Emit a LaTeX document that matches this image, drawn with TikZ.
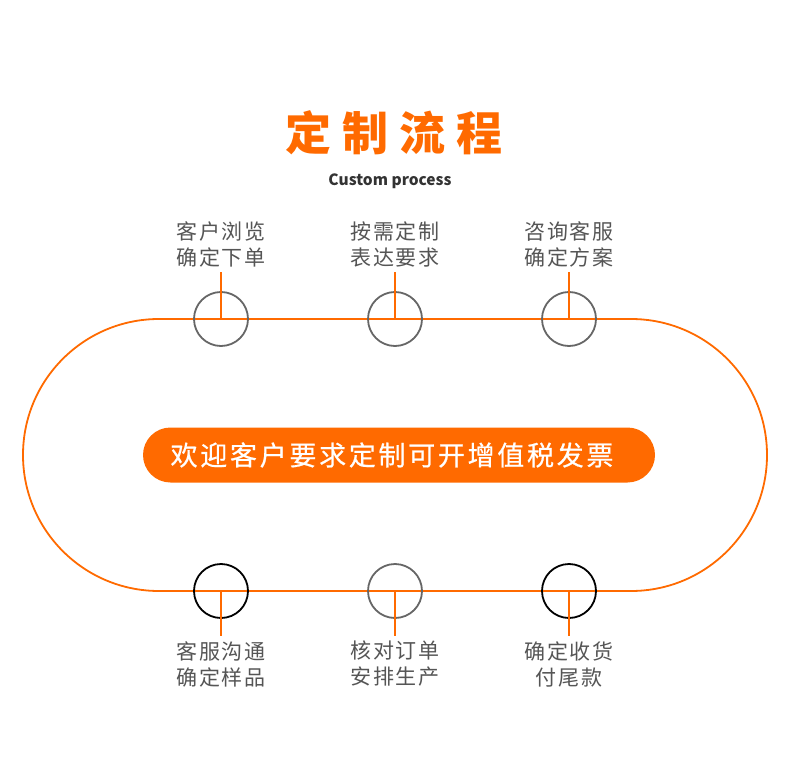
\documentclass[tikz,border=0pt]{standalone}
\usepackage{fontspec}
\newfontfamily\cjk{Noto Sans CJK SC}
\newfontfamily\cjkM[FakeBold=0.6]{Noto Sans CJK SC}
\definecolor{org}{HTML}{FF6A00}
\definecolor{lbl}{HTML}{555555}
\definecolor{cgray}{HTML}{666666}
\newcommand\gT{\kern11pt}
\newcommand\gP{\kern2.7pt}
\newcommand\gL{\kern1.6pt}
\begin{document}
\begin{tikzpicture}[x=1pt,y=-1pt,
  track/.style={draw=org,line width=1.8pt},
  ring/.style={circle,draw=cgray,line width=1.8pt,minimum size=54pt,inner sep=0pt},
  ringk/.style={ring,draw=black},
  lab/.style={font=\cjk\fontsize{21}{26}\selectfont,text=lbl,align=center,inner sep=0pt},
  tick/.style={draw=org,line width=2pt}]
\useasboundingbox (0,0) rectangle (790,770);
% stadium
\draw[track] (159,319) -- (631,319) arc[start angle=-90,end angle=90,radius=136] -- (159,591) arc[start angle=90,end angle=270,radius=136] -- cycle;
% title
\node[font=\cjk\bfseries\fontsize{46}{50}\selectfont,text=org,inner sep=0pt] (title) at (394,133) {定\gT 制\gT 流\gT 程};
\node[font=\cjk\bfseries\fontsize{15.5}{18}\selectfont,text=black!80,inner sep=0pt] (sub) at (390,181) {Custom process};
% center pill
\node[fill=org,rounded corners=27.5pt,minimum width=512pt,minimum height=55pt,inner sep=0pt] (pill) at (399,455) {};
\node[font=\cjkM\fontsize{27}{32}\selectfont,text=white,inner sep=0pt] (pilltext) at (392,455)
  {欢\gP 迎\gP 客\gP 户\gP 要\gP 求\gP 定\gP 制\gP 可\gP 开\gP 增\gP 值\gP 税\gP 发\gP 票};
% top circles
\foreach \x/\n in {221/t1,395/t2,569/t3}{
  \node[ring] (\n) at (\x,319) {};
  \coordinate (\n c) at (\x,319);
  \coordinate (\n e) at (\x,272);
  \draw[tick] (\n c) -- (\n e);
}
% bottom circles
\node[ringk] (b1) at (221,591) {};
\node[ring] (b2) at (395,591) {};
\node[ringk] (b3) at (569,591) {};
\foreach \x/\n in {221/b1,395/b2,569/b3}{
  \coordinate (\n c) at (\x,591);
  \coordinate (\n e) at (\x,636);
  \draw[tick] (\n c) -- (\n e);
}
% labels
\node[lab] (l1) at (221,244) {客\gL 户\gL 浏\gL 览\\确\gL 定\gL 下\gL 单};
\node[lab] (l2) at (395,244) {按\gL 需\gL 定\gL 制\\表\gL 达\gL 要\gL 求};
\node[lab] (l3) at (569,244) {咨\gL 询\gL 客\gL 服\\确\gL 定\gL 方\gL 案};
\node[lab] (l4) at (221,664) {客\gL 服\gL 沟\gL 通\\确\gL 定\gL 样\gL 品};
\node[lab] (l5) at (395,664) {核\gL 对\gL 订\gL 单\\安\gL 排\gL 生\gL 产};
\node[lab] (l6) at (569,664) {确\gL 定\gL 收\gL 货\\付\gL 尾\gL 款};
\end{tikzpicture}
\end{document}
